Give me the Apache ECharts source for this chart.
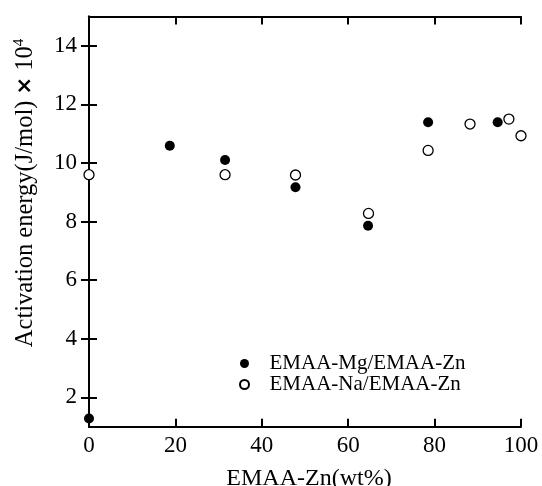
<!DOCTYPE html>
<html>
<head>
<meta charset="utf-8">
<script src="https://cdn.jsdelivr.net/npm/echarts@6/dist/echarts.min.js"></script>
<style>html,body{margin:0;padding:0;background:#fff}#c{width:542px;height:486px}</style>
</head>
<body>
<div id="c"></div>
<script>
var xMg = [0, 18.7, 31.5, 47.8, 64.6, 78.5, 94.6];
var yMg = [1.28, 10.59, 10.1, 9.17, 7.86, 11.39, 11.39];
var xNa = [0, 31.5, 47.8, 64.7, 78.5, 88.2, 97.2, 100];
var yNa = [9.6, 9.6, 9.59, 8.28, 10.43, 11.33, 11.5, 10.93];
var yTicks = [2, 4, 6, 8, 10, 12, 14];
var seriesNames = ['EMAA-Mg/EMAA-Zn', 'EMAA-Na/EMAA-Zn'];
var xTitle = 'EMAA-Zn(wt%)';

function pairs(xs, ys) { return xs.map(function (x, i) { return [x, ys[i]]; }); }

var FONT = '"Liberation Serif", "Times New Roman", serif';
var axisLine = { lineStyle: { color: '#000', width: 2 } };
var chart = echarts.init(document.getElementById('c'), null, { renderer: 'canvas' });
chart.setOption({
  animation: false,
  backgroundColor: '#fff',
  grid: { left: 89, right: 21, top: 16.5, bottom: 59.3, containLabel: false, outerBoundsMode: 'none' },
  xAxis: [{
    type: 'value', min: 0, max: 100, interval: 20, position: 'bottom',
    axisLine: axisLine, splitLine: { show: false },
    axisTick: { inside: true, length: 8, lineStyle: { color: '#000', width: 2 } },
    axisLabel: { color: '#000', fontFamily: FONT, fontSize: 23, margin: 8 },
    name: xTitle, nameLocation: 'middle', nameGap: 40,
    nameTextStyle: { color: '#000', fontFamily: FONT, fontSize: 24, padding: [0, 0, 0, 8] }
  }, {
    type: 'value', min: 0, max: 100, interval: 20, position: 'top',
    axisLine: axisLine, splitLine: { show: false },
    axisTick: { inside: true, length: 8, lineStyle: { color: '#000', width: 2 } },
    axisLabel: { show: false }
  }],
  yAxis: [{
    type: 'value', min: 1, max: 15, position: 'left',
    axisLine: axisLine, splitLine: { show: false },
    axisTick: { inside: true, length: 8, customValues: yTicks, lineStyle: { color: '#000', width: 2 } },
    axisLabel: { color: '#000', fontFamily: FONT, fontSize: 23, margin: 12, customValues: yTicks }
  }, {
    type: 'value', min: 1, max: 15, position: 'right',
    axisLine: axisLine, splitLine: { show: false },
    axisTick: { inside: true, length: 8, customValues: yTicks, lineStyle: { color: '#000', width: 2 } },
    axisLabel: { show: false, customValues: yTicks }
  }],
  legend: {
    orient: 'vertical', left: 234, top: 348,
    itemWidth: 10, itemHeight: 9, itemGap: 0,
    textStyle: { color: '#000', fontFamily: FONT, fontSize: 21, lineHeight: 21, padding: [0, 0, 0, 15] },
    data: seriesNames
  },
  graphic: [{
    type: 'text', x: 26, y: 193, rotation: Math.PI / 2,
    style: {
      text: 'Activation energy(J/mol) {b|×} 10{sup|4}',
      fontFamily: FONT, fontSize: 24.5, fill: '#000',
      align: 'center', verticalAlign: 'middle',
      rich: {
        b: { fontFamily: 'DejaVu Sans, sans-serif', fontWeight: 'bold', fontSize: 21, fill: '#000' },
        sup: { fontFamily: FONT, fontSize: 15, padding: [0, 0, 13, 0], fill: '#000' }
      }
    }
  }],
  series: [{
    name: seriesNames[0], type: 'scatter', xAxisIndex: 0, yAxisIndex: 0,
    symbol: 'circle', symbolSize: 10, clip: false,
    itemStyle: { color: '#000', borderColor: '#000', borderWidth: 0, opacity: 1 },
    data: pairs(xMg, yMg)
  }, {
    name: seriesNames[1], type: 'scatter', xAxisIndex: 0, yAxisIndex: 0,
    symbol: 'circle', symbolSize: 10, clip: false,
    itemStyle: { color: '#fff', borderColor: '#000', borderWidth: 1.3, opacity: 1 },
    data: pairs(xNa, yNa)
  }]
});
</script>
</body>
</html>
